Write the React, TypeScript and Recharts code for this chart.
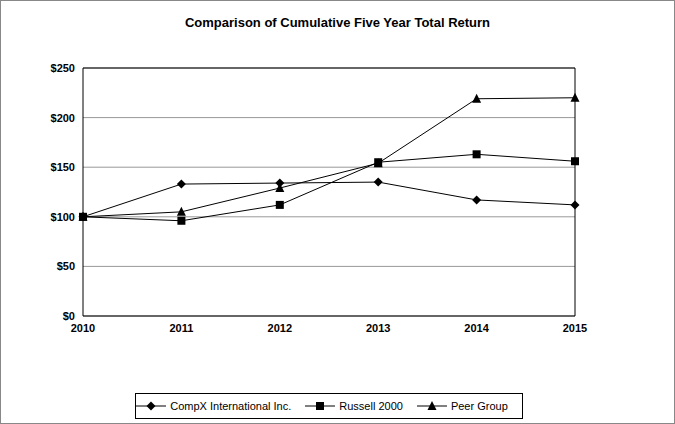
import { LineChart, Line, XAxis, YAxis, CartesianGrid, ReferenceLine } from "recharts";

const years = [2010, 2011, 2012, 2013, 2014, 2015];
const compx = [100, 133, 134, 135, 117, 112];
const russell = [100, 96, 112, 155, 163, 156];
const peer = [100, 105, 129, 154, 219, 220];
const yTicks = [0, 50, 100, 150, 200, 250];

const data = years.map((year, i) => ({
  year,
  compx: compx[i],
  russell: russell[i],
  peer: peer[i],
}));

const Diamond = ({ cx, cy }: any) => (
  <polygon points={`${cx},${cy - 4.5} ${cx + 4.5},${cy} ${cx},${cy + 4.5} ${cx - 4.5},${cy}`} fill="#000" />
);
const Square = ({ cx, cy }: any) => <rect x={cx - 4} y={cy - 4} width={8} height={8} fill="#000" />;
const Triangle = ({ cx, cy }: any) => (
  <polygon points={`${cx},${cy - 5} ${cx + 4.5},${cy + 4} ${cx - 4.5},${cy + 4}`} fill="#000" />
);

const font = "Arial, 'Liberation Sans', sans-serif";

function LegendItem({ Shape, label }: { Shape: any; label: string }) {
  return (
    <span style={{ display: "inline-flex", alignItems: "center", marginRight: 14 }}>
      <svg width={30} height={10}>
        <line x1={0} y1={5} x2={30} y2={5} stroke="#000" strokeWidth={1} />
        <Shape cx={15} cy={5} />
      </svg>
      <span style={{ marginLeft: 4 }}>{label}</span>
    </span>
  );
}

export default function App() {
  return (
    <div
      style={{
        position: "absolute",
        left: 0,
        top: 0,
        width: 673,
        height: 422,
        border: "1px solid #888",
        background: "#fff",
        fontFamily: font,
      }}
    >
      <div style={{ position: "absolute", top: 14, width: "100%", textAlign: "center", fontSize: 13, fontWeight: "bold" }}>
        Comparison of Cumulative Five Year Total Return
      </div>
      <LineChart width={673} height={422} data={data} margin={{ top: 67, right: 99, left: 22, bottom: 77 }}>
        <CartesianGrid vertical={false} stroke="#999" />
        <XAxis
          dataKey="year"
          type="number"
          domain={[2010, 2015]}
          ticks={years}
          tickLine={false}
          axisLine={{ stroke: "#000" }}
          height={30}
          tick={{ fontSize: 11, fontWeight: "bold", fill: "#000", fontFamily: font }}
        />
        <YAxis
          domain={[0, 250]}
          ticks={yTicks}
          tickFormatter={(v: number) => `$${v}`}
          tickLine={false}
          axisLine={{ stroke: "#000" }}
          width={60}
          tick={{ fontSize: 11, fontWeight: "bold", fill: "#000", fontFamily: font }}
        />
        <ReferenceLine y={250} stroke="#000" />
        <ReferenceLine x={2015} stroke="#000" />
        <Line dataKey="compx" stroke="#000" strokeWidth={1} dot={<Diamond />} isAnimationActive={false} />
        <Line dataKey="russell" stroke="#000" strokeWidth={1} dot={<Square />} isAnimationActive={false} />
        <Line dataKey="peer" stroke="#000" strokeWidth={1} dot={<Triangle />} isAnimationActive={false} />
      </LineChart>
      <div
        style={{
          position: "absolute",
          left: 134,
          top: 392,
          width: 388,
          height: 26,
          border: "1px solid #000",
          boxSizing: "border-box",
          display: "flex",
          alignItems: "center",
          justifyContent: "center",
          fontSize: 11,
        }}
      >
        <LegendItem Shape={Diamond} label="CompX International Inc." />
        <LegendItem Shape={Square} label="Russell 2000" />
        <LegendItem Shape={Triangle} label="Peer Group" />
      </div>
    </div>
  );
}
